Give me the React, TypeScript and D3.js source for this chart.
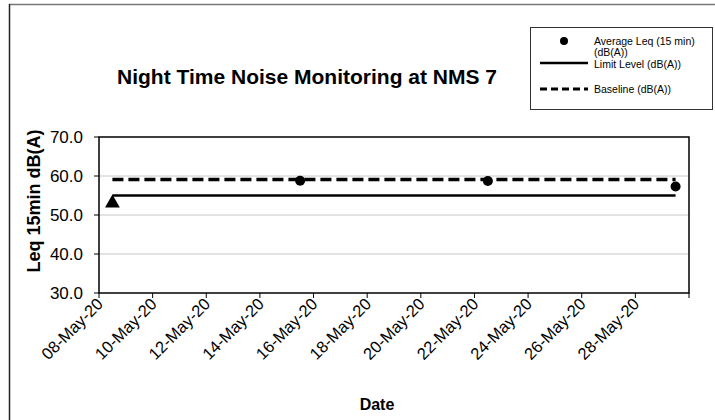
import React from "react";
import * as d3 from "d3";

const dates = ["2020-05-08T12:00", "2020-05-15T12:00", "2020-05-22T12:00", "2020-05-29T12:00"];
const averageLeq = [53.3, 58.8, 58.7, 57.3];
const averageMarkers = ["triangle", "circle", "circle", "circle"];
const limitLevel = [55, 55, 55, 55];
const baseline = [59.1, 59.1, 59.1, 59.1];
const yTicks = [30, 40, 50, 60, 70];
const xTickDates = ["2020-05-08", "2020-05-10", "2020-05-12", "2020-05-14", "2020-05-16", "2020-05-18", "2020-05-20", "2020-05-22", "2020-05-24", "2020-05-26", "2020-05-28"];
const xDomain = ["2020-05-08", "2020-05-30"];

const W = 715, H = 420;
const L = 99, R = 689, T = 137, B = 293;
const FONT = "'Liberation Sans', Arial, sans-serif";

export default function App() {
  const parse = d3.timeParse("%Y-%m-%dT%H:%M");
  const parseD = d3.timeParse("%Y-%m-%d");
  const x = d3.scaleTime().domain(xDomain.map((d) => parseD(d) as Date)).range([L, R]);
  const y = d3.scaleLinear().domain([30, 70]).range([B, T]);
  const fmt = d3.timeFormat("%d-%b-%y");
  const pts = dates.map((d, i) => ({ t: parse(d) as Date, avg: averageLeq[i], lim: limitLevel[i], base: baseline[i], m: averageMarkers[i] }));
  const line = (key: "lim" | "base") =>
    d3.line<any>().x((d) => x(d.t)).y((d) => y(d[key]))(pts) as string;
  const tri = d3.symbol().type(d3.symbolTriangle).size(95)() as string;
  const allTicks = [...xTickDates, xDomain[1]];

  return (
    <svg width={W} height={H} style={{ position: "absolute", left: 0, top: 0, background: "#fff" }} fontFamily={FONT}>
      <rect x={0} y={0} width={W} height={H} fill="#fff" />
      <line x1={9} y1={4.5} x2={W} y2={4.5} stroke="#777" strokeWidth={1.5} />
      <line x1={9.5} y1={4} x2={9.5} y2={H} stroke="#222" strokeWidth={1.5} />

      <text x={307} y={84} textAnchor="middle" fontWeight="bold" fontSize={21}>
        Night Time Noise Monitoring at NMS 7
      </text>

      {/* gridlines */}
      {yTicks.filter((v) => v > 30 && v < 70).map((v) => (
        <line key={v} x1={L} x2={R} y1={y(v)} y2={y(v)} stroke="#c8c8c8" strokeWidth={1} />
      ))}
      {/* y ticks */}
      {yTicks.map((v) => (
        <g key={v}>
          <line x1={L - 5} x2={L} y1={y(v)} y2={y(v)} stroke="#000" strokeWidth={1} />
          <text x={L - 16} y={y(v)} dy="0.35em" textAnchor="end" fontSize={17}>
            {d3.format(".1f")(v)}
          </text>
        </g>
      ))}
      {/* x ticks */}
      {allTicks.map((d) => (
        <line key={d} x1={x(parseD(d) as Date)} x2={x(parseD(d) as Date)} y1={B} y2={B + 5} stroke="#000" strokeWidth={1} />
      ))}
      {xTickDates.map((d) => {
        const xx = x(parseD(d) as Date);
        return (
          <text key={d} transform={`translate(${xx + 5},${B + 12}) rotate(-45)`} textAnchor="end" fontSize={16.5}>
            {fmt(parseD(d) as Date)}
          </text>
        );
      })}

      {/* plot frame */}
      <rect x={L} y={T} width={R - L} height={B - T} fill="none" stroke="#000" strokeWidth={1.5} />

      {/* series */}
      <path d={line("base")} fill="none" stroke="#000" strokeWidth={3.5} strokeDasharray="11,5" />
      <path d={line("lim")} fill="none" stroke="#000" strokeWidth={2.5} />
      {pts.map((p, i) =>
        p.m === "triangle" ? (
          <path key={i} d={tri} transform={`translate(${x(p.t)},${y(p.avg) + 1})`} fill="#000" />
        ) : (
          <circle key={i} cx={x(p.t)} cy={y(p.avg)} r={5} fill="#000" />
        )
      )}

      {/* axis titles */}
      <text transform={`translate(40,201) rotate(-90)`} textAnchor="middle" fontWeight="bold" fontSize={18}>
        Leq 15min dB(A)
      </text>
      <text x={377} y={410} textAnchor="middle" fontWeight="bold" fontSize={16}>
        Date
      </text>

      {/* legend */}
      <rect x={530.5} y={27.5} width={182} height={82} fill="#fff" stroke="#333" strokeWidth={1} />
      <circle cx={564} cy={41} r={4} fill="#000" />
      <text x={594} y={44.5} fontSize={10.5}>Average Leq (15 min)</text>
      <text x={594} y={55.5} fontSize={10.5}>(dB(A))</text>
      <line x1={540} x2={588} y1={63} y2={63} stroke="#000" strokeWidth={2.5} />
      <text x={594} y={67.5} fontSize={10.5}>Limit Level (dB(A))</text>
      <line x1={540} x2={588} y1={89} y2={89} stroke="#000" strokeWidth={3} strokeDasharray="7,4" />
      <text x={594} y={93} fontSize={10.5}>Baseline (dB(A))</text>
    </svg>
  );
}
